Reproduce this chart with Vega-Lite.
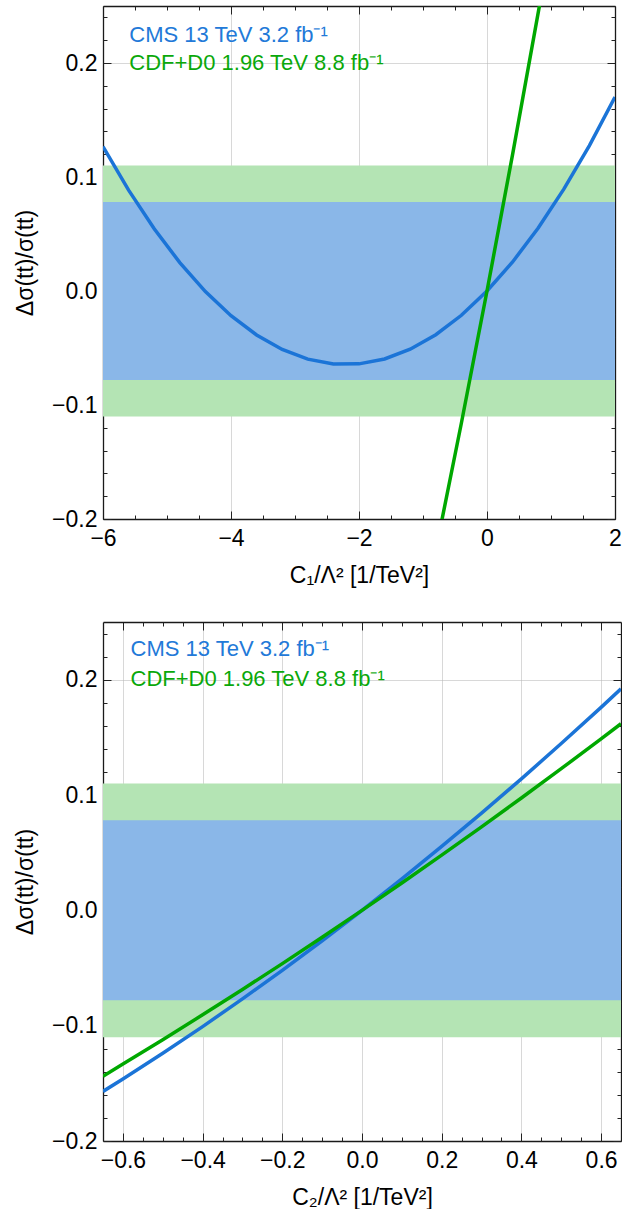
{
  "$schema": "https://vega.github.io/schema/vega-lite/v6.json",
  "padding": {"left": 14, "top": 5, "right": 0, "bottom": 0},
  "spacing": 34,
  "config": {
    "view": {"stroke": null},
    "font": "Liberation Sans",
    "axis": {
      "labelFont": "Liberation Sans",
      "labelFontSize": 23,
      "labelColor": "#000000",
      "titleFont": "Liberation Sans",
      "titleFontSize": 23,
      "titleFontWeight": "normal",
      "titleColor": "#000000",
      "tickColor": "#222222",
      "tickWidth": 1,
      "domainColor": "#1a1a1a",
      "domainWidth": 1.3,
      "gridColor": "#b8b8b8",
      "gridOpacity": 0.55,
      "gridWidth": 1,
      "zindex": 1,
      "labelFlush": false,
      "labelOverlap": false,
      "labelBound": false,
      "minExtent": 0
    },
    "text": {"font": "Liberation Sans", "fontSize": 22, "align": "left", "baseline": "middle"}
  },
  "datasets": {
    "bands_c1": [
      {"exp": "CDF+D0", "x0": -6, "x1": 2, "lo": -0.11, "hi": 0.11},
      {"exp": "CMS", "x0": -6, "x1": 2, "lo": -0.078, "hi": 0.078}
    ],
    "bands_c2": [
      {"exp": "CDF+D0", "x0": -0.65, "x1": 0.65, "lo": -0.11, "hi": 0.11},
      {"exp": "CMS", "x0": -0.65, "x1": 0.65, "lo": -0.078, "hi": 0.078}
    ],
    "cms_c1": [
      {"c": -6.0, "d": 0.1267}, {"c": -5.6, "d": 0.0885}, {"c": -5.2, "d": 0.0546},
      {"c": -4.8, "d": 0.0249}, {"c": -4.4, "d": -0.0005}, {"c": -4.0, "d": -0.0217},
      {"c": -3.6, "d": -0.0386}, {"c": -3.2, "d": -0.0513}, {"c": -2.8, "d": -0.0598},
      {"c": -2.4, "d": -0.064}, {"c": -2.0, "d": -0.0639}, {"c": -1.6, "d": -0.0596},
      {"c": -1.2, "d": -0.0511}, {"c": -0.8, "d": -0.0383}, {"c": -0.4, "d": -0.0213},
      {"c": 0.0, "d": 0.0}, {"c": 0.4, "d": 0.0255}, {"c": 0.8, "d": 0.0553},
      {"c": 1.2, "d": 0.0893}, {"c": 1.6, "d": 0.1276}, {"c": 2.0, "d": 0.1701}
    ],
    "cdf_c1": [
      {"c": -0.8, "d": -0.2275}, {"c": -0.4, "d": -0.1158}, {"c": 0.0, "d": 0.0},
      {"c": 0.4, "d": 0.1198}, {"c": 0.9, "d": 0.2752}
    ],
    "cms_c2": [
      {"c": -0.65, "d": -0.157}, {"c": -0.6, "d": -0.1462}, {"c": -0.5, "d": -0.1239},
      {"c": -0.4, "d": -0.1008}, {"c": -0.3, "d": -0.0768}, {"c": -0.2, "d": -0.052},
      {"c": -0.1, "d": -0.0264}, {"c": 0.0, "d": 0.0}, {"c": 0.1, "d": 0.0273},
      {"c": 0.2, "d": 0.0554}, {"c": 0.3, "d": 0.0843}, {"c": 0.4, "d": 0.114},
      {"c": 0.5, "d": 0.1446}, {"c": 0.6, "d": 0.176}, {"c": 0.65, "d": 0.192}
    ],
    "cdf_c2": [
      {"c": -0.65, "d": -0.1438}, {"c": -0.6, "d": -0.1333}, {"c": -0.5, "d": -0.1122},
      {"c": -0.4, "d": -0.0906}, {"c": -0.3, "d": -0.0686}, {"c": -0.2, "d": -0.0462},
      {"c": -0.1, "d": -0.0233}, {"c": 0.0, "d": 0.0}, {"c": 0.1, "d": 0.0237},
      {"c": 0.2, "d": 0.0479}, {"c": 0.3, "d": 0.0724}, {"c": 0.4, "d": 0.0974},
      {"c": 0.5, "d": 0.1228}, {"c": 0.6, "d": 0.1487}, {"c": 0.65, "d": 0.1618}
    ],
    "labels_c1": [
      {"exp": "CMS", "c": -5.59, "d": 0.2246, "text": "CMS 13 TeV 3.2 fb⁻¹"},
      {"exp": "CDF+D0", "c": -5.59, "d": 0.1997, "text": "CDF+D0 1.96 TeV 8.8 fb⁻¹"}
    ],
    "labels_c2": [
      {"exp": "CMS", "c": -0.581, "d": 0.2266, "text": "CMS 13 TeV 3.2 fb⁻¹"},
      {"exp": "CDF+D0", "c": -0.581, "d": 0.2006, "text": "CDF+D0 1.96 TeV 8.8 fb⁻¹"}
    ]
  },
  "vconcat": [
    {
      "width": 512,
      "height": 513,
      "resolve": {"axis": {"x": "independent", "y": "independent"}},
      "layer": [
        {
          "data": {"name": "bands_c1"},
          "transform": [{"filter": "datum.exp === 'CDF+D0'"}],
          "mark": {"type": "rect", "color": "#b4e4b4"},
          "encoding": {
            "x": {"field": "x0", "type": "quantitative", "scale": {"domain": [-6, 2], "nice": false, "zero": false},
                  "axis": {"orient": "bottom", "values": [-6, -4, -2, 0, 2], "format": "d", "grid": true, "ticks": false, "domain": true, "labels": true, "labelPadding": 8, "title": "C₁/Λ² [1/TeV²]", "titlePadding": 14}},
            "x2": {"field": "x1"},
            "y": {"field": "lo", "type": "quantitative", "scale": {"domain": [-0.2, 0.25], "nice": false, "zero": false},
                  "axis": {"orient": "left", "values": [-0.2, -0.1, 0, 0.1, 0.2], "format": ".1f", "grid": true, "ticks": false, "domain": true, "labels": true, "labelPadding": 6, "title": "Δσ(tt)/σ(tt)", "titlePadding": 14}},
            "y2": {"field": "hi"}
          }
        },
        {
          "data": {"name": "bands_c1"},
          "transform": [{"filter": "datum.exp === 'CMS'"}],
          "mark": {"type": "rect", "color": "#8ab7e8"},
          "encoding": {
            "x": {"field": "x0", "type": "quantitative", "scale": {"domain": [-6, 2], "nice": false, "zero": false},
                  "axis": {"orient": "bottom", "values": [-6, -4, -2, 0, 2], "grid": false, "ticks": true, "tickSize": -8, "domain": false, "labels": false, "title": null}},
            "x2": {"field": "x1"},
            "y": {"field": "lo", "type": "quantitative", "scale": {"domain": [-0.2, 0.25], "nice": false, "zero": false},
                  "axis": {"orient": "left", "values": [-0.2, -0.1, 0, 0.1, 0.2], "grid": false, "ticks": true, "tickSize": -8, "domain": false, "labels": false, "title": null}},
            "y2": {"field": "hi"}
          }
        },
        {
          "data": {"name": "cms_c1"},
          "mark": {"type": "line", "color": "#1b74d7", "strokeWidth": 3.5, "clip": true},
          "encoding": {
            "x": {"field": "c", "type": "quantitative", "scale": {"domain": [-6, 2], "nice": false, "zero": false},
                  "axis": {"orient": "bottom", "values": [-5.5, -5, -4.5, -3.5, -3, -2.5, -1.5, -1, -0.5, 0.5, 1, 1.5], "grid": false, "ticks": true, "tickSize": -4, "domain": false, "labels": false, "title": null}},
            "y": {"field": "d", "type": "quantitative", "scale": {"domain": [-0.2, 0.25], "nice": false, "zero": false},
                  "axis": {"orient": "left", "values": [-0.18, -0.16, -0.14, -0.12, -0.08, -0.06, -0.04, -0.02, 0.02, 0.04, 0.06, 0.08, 0.12, 0.14, 0.16, 0.18, 0.22, 0.24], "grid": false, "ticks": true, "tickSize": -4, "domain": false, "labels": false, "title": null}}
          }
        },
        {
          "data": {"name": "cdf_c1"},
          "mark": {"type": "line", "color": "#00a800", "strokeWidth": 3.5, "clip": true},
          "encoding": {
            "x": {"field": "c", "type": "quantitative", "scale": {"domain": [-6, 2], "nice": false, "zero": false},
                  "axis": {"orient": "top", "values": [-6, -4, -2, 0, 2], "grid": false, "ticks": true, "tickSize": -8, "domain": true, "labels": false, "title": null}},
            "y": {"field": "d", "type": "quantitative", "scale": {"domain": [-0.2, 0.25], "nice": false, "zero": false},
                  "axis": {"orient": "right", "values": [-0.2, -0.1, 0, 0.1, 0.2], "grid": false, "ticks": true, "tickSize": -8, "domain": true, "labels": false, "title": null}}
          }
        },
        {
          "data": {"name": "labels_c1"},
          "mark": {"type": "text"},
          "encoding": {
            "x": {"field": "c", "type": "quantitative", "scale": {"domain": [-6, 2], "nice": false, "zero": false},
                  "axis": {"orient": "top", "values": [-5.5, -5, -4.5, -3.5, -3, -2.5, -1.5, -1, -0.5, 0.5, 1, 1.5], "grid": false, "ticks": true, "tickSize": -4, "domain": false, "labels": false, "title": null}},
            "y": {"field": "d", "type": "quantitative", "scale": {"domain": [-0.2, 0.25], "nice": false, "zero": false},
                  "axis": {"orient": "right", "values": [-0.18, -0.16, -0.14, -0.12, -0.08, -0.06, -0.04, -0.02, 0.02, 0.04, 0.06, 0.08, 0.12, 0.14, 0.16, 0.18, 0.22, 0.24], "grid": false, "ticks": true, "tickSize": -4, "domain": false, "labels": false, "title": null}},
            "text": {"field": "text"},
            "color": {"field": "exp", "type": "nominal", "scale": {"domain": ["CMS", "CDF+D0"], "range": ["#2279d8", "#0aa80a"]}, "legend": null}
          }
        }
      ]
    },
    {
      "width": 518,
      "height": 519,
      "resolve": {"axis": {"x": "independent", "y": "independent"}},
      "layer": [
        {
          "data": {"name": "bands_c2"},
          "transform": [{"filter": "datum.exp === 'CDF+D0'"}],
          "mark": {"type": "rect", "color": "#b4e4b4"},
          "encoding": {
            "x": {"field": "x0", "type": "quantitative", "scale": {"domain": [-0.65, 0.65], "nice": false, "zero": false},
                  "axis": {"orient": "bottom", "values": [-0.6, -0.4, -0.2, 0, 0.2, 0.4, 0.6], "format": ".1f", "grid": true, "ticks": false, "domain": true, "labels": true, "labelPadding": 8, "title": "C₂/Λ² [1/TeV²]", "titlePadding": 14}},
            "x2": {"field": "x1"},
            "y": {"field": "lo", "type": "quantitative", "scale": {"domain": [-0.2, 0.25], "nice": false, "zero": false},
                  "axis": {"orient": "left", "values": [-0.2, -0.1, 0, 0.1, 0.2], "format": ".1f", "grid": true, "ticks": false, "domain": true, "labels": true, "labelPadding": 6, "title": "Δσ(tt)/σ(tt)", "titlePadding": 14}},
            "y2": {"field": "hi"}
          }
        },
        {
          "data": {"name": "bands_c2"},
          "transform": [{"filter": "datum.exp === 'CMS'"}],
          "mark": {"type": "rect", "color": "#8ab7e8"},
          "encoding": {
            "x": {"field": "x0", "type": "quantitative", "scale": {"domain": [-0.65, 0.65], "nice": false, "zero": false},
                  "axis": {"orient": "bottom", "values": [-0.6, -0.4, -0.2, 0, 0.2, 0.4, 0.6], "grid": false, "ticks": true, "tickSize": -8, "domain": false, "labels": false, "title": null}},
            "x2": {"field": "x1"},
            "y": {"field": "lo", "type": "quantitative", "scale": {"domain": [-0.2, 0.25], "nice": false, "zero": false},
                  "axis": {"orient": "left", "values": [-0.2, -0.1, 0, 0.1, 0.2], "grid": false, "ticks": true, "tickSize": -8, "domain": false, "labels": false, "title": null}},
            "y2": {"field": "hi"}
          }
        },
        {
          "data": {"name": "cms_c2"},
          "mark": {"type": "line", "color": "#1b74d7", "strokeWidth": 3.5, "clip": true},
          "encoding": {
            "x": {"field": "c", "type": "quantitative", "scale": {"domain": [-0.65, 0.65], "nice": false, "zero": false},
                  "axis": {"orient": "bottom", "values": [-0.55, -0.5, -0.45, -0.35, -0.3, -0.25, -0.15, -0.1, -0.05, 0.05, 0.1, 0.15, 0.25, 0.3, 0.35, 0.45, 0.5, 0.55], "grid": false, "ticks": true, "tickSize": -4, "domain": false, "labels": false, "title": null}},
            "y": {"field": "d", "type": "quantitative", "scale": {"domain": [-0.2, 0.25], "nice": false, "zero": false},
                  "axis": {"orient": "left", "values": [-0.18, -0.16, -0.14, -0.12, -0.08, -0.06, -0.04, -0.02, 0.02, 0.04, 0.06, 0.08, 0.12, 0.14, 0.16, 0.18, 0.22, 0.24], "grid": false, "ticks": true, "tickSize": -4, "domain": false, "labels": false, "title": null}}
          }
        },
        {
          "data": {"name": "cdf_c2"},
          "mark": {"type": "line", "color": "#00a800", "strokeWidth": 3.5, "clip": true},
          "encoding": {
            "x": {"field": "c", "type": "quantitative", "scale": {"domain": [-0.65, 0.65], "nice": false, "zero": false},
                  "axis": {"orient": "top", "values": [-0.6, -0.4, -0.2, 0, 0.2, 0.4, 0.6], "grid": false, "ticks": true, "tickSize": -8, "domain": true, "labels": false, "title": null}},
            "y": {"field": "d", "type": "quantitative", "scale": {"domain": [-0.2, 0.25], "nice": false, "zero": false},
                  "axis": {"orient": "right", "values": [-0.2, -0.1, 0, 0.1, 0.2], "grid": false, "ticks": true, "tickSize": -8, "domain": true, "labels": false, "title": null}}
          }
        },
        {
          "data": {"name": "labels_c2"},
          "mark": {"type": "text"},
          "encoding": {
            "x": {"field": "c", "type": "quantitative", "scale": {"domain": [-0.65, 0.65], "nice": false, "zero": false},
                  "axis": {"orient": "top", "values": [-0.55, -0.5, -0.45, -0.35, -0.3, -0.25, -0.15, -0.1, -0.05, 0.05, 0.1, 0.15, 0.25, 0.3, 0.35, 0.45, 0.5, 0.55], "grid": false, "ticks": true, "tickSize": -4, "domain": false, "labels": false, "title": null}},
            "y": {"field": "d", "type": "quantitative", "scale": {"domain": [-0.2, 0.25], "nice": false, "zero": false},
                  "axis": {"orient": "right", "values": [-0.18, -0.16, -0.14, -0.12, -0.08, -0.06, -0.04, -0.02, 0.02, 0.04, 0.06, 0.08, 0.12, 0.14, 0.16, 0.18, 0.22, 0.24], "grid": false, "ticks": true, "tickSize": -4, "domain": false, "labels": false, "title": null}},
            "text": {"field": "text"},
            "color": {"field": "exp", "type": "nominal", "scale": {"domain": ["CMS", "CDF+D0"], "range": ["#2279d8", "#0aa80a"]}, "legend": null}
          }
        }
      ]
    }
  ]
}
